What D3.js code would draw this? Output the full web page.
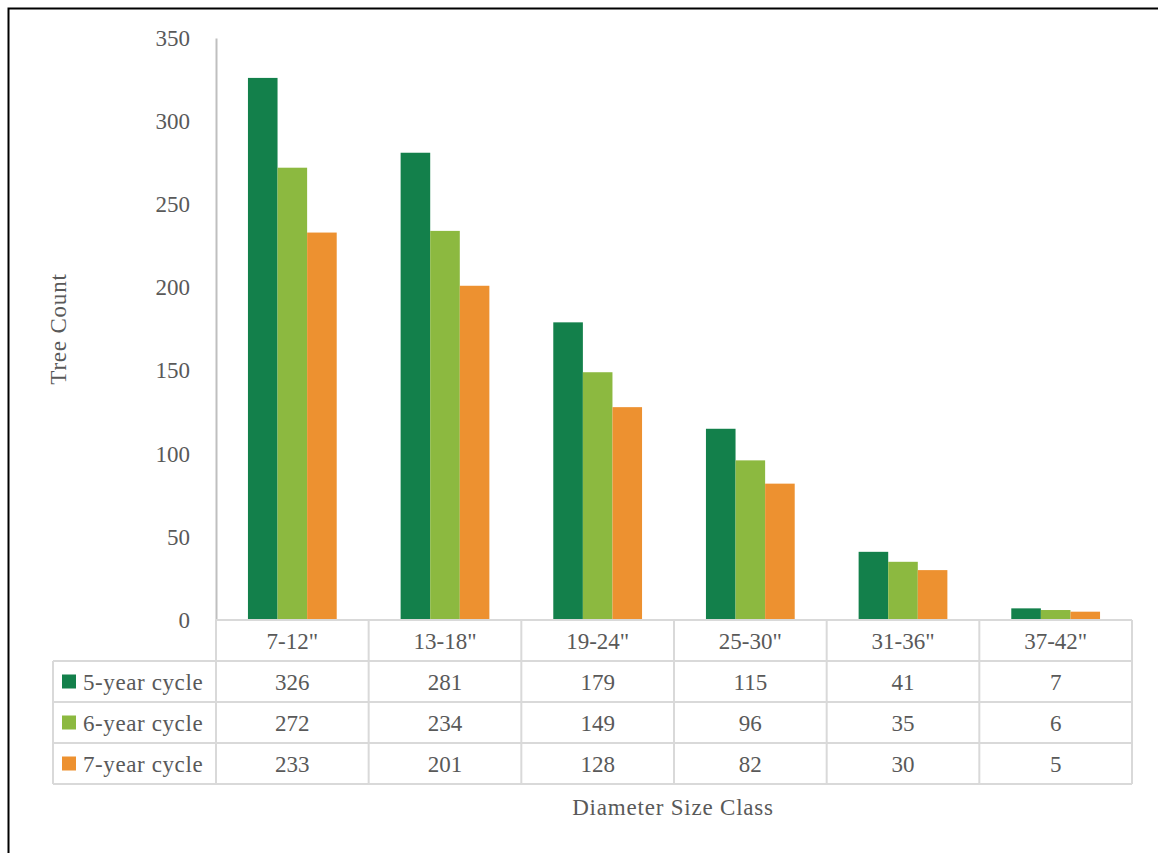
<!DOCTYPE html>
<html>
<head>
<meta charset="utf-8">
<script src="https://cdn.jsdelivr.net/npm/d3@7"></script>
<style>
  body { margin: 0; background: #fff; }
  text { font-family: "Liberation Serif", "DejaVu Serif", serif; fill: #595959; }
</style>
</head>
<body>
<div id="chart"></div>
<script>
var categories = ["7-12\"", "13-18\"", "19-24\"", "25-30\"", "31-36\"", "37-42\""];
var seriesNames = ["5-year cycle", "6-year cycle", "7-year cycle"];
var fiveYear = [326, 281, 179, 115, 41, 7];
var sixYear = [272, 234, 149, 96, 35, 6];
var sevenYear = [233, 201, 128, 82, 30, 5];
var yTicks = [0, 50, 100, 150, 200, 250, 300, 350];
var colours = ["#13804b", "#8cb940", "#ed9130"];

var seriesValues = [fiveYear, sixYear, sevenYear];

var width = 1158,
	height = 853;
var plotLeft = 216, plotRight = 1132;
var plotTop = 38, plotBottom = 620;
var rowHeight = 41;
var tableLeft = 53;
var fontSize = 23;

var svg = d3.select("#chart").append("svg")
	.attr("width", width)
	.attr("height", height);

// outer frame
svg.append("rect")
	.attr("x", 8.5).attr("y", 8.5)
	.attr("width", width + 10).attr("height", height + 10)
	.attr("fill", "none")
	.attr("stroke", "#000")
	.attr("stroke-width", 2);

var x = d3.scaleBand()
	.domain(categories)
	.range([plotLeft, plotRight]);

var xInner = d3.scaleBand()
	.domain(seriesNames)
	.range([0, x.bandwidth()])
	.paddingOuter(1.08);

var y = d3.scaleLinear()
	.domain([0, 350])
	.range([plotBottom, plotTop]);

// y axis
var yAxis = svg.append("g")
	.attr("transform", "translate(" + plotLeft + ",0)")
	.call(d3.axisLeft(y).tickValues(yTicks).tickSize(0).tickPadding(26));
yAxis.select(".domain").attr("stroke", "#bfbfbf").attr("stroke-width", 2);
yAxis.selectAll("text")
	.style("font-size", fontSize + "px")
	.style("font-family", "Liberation Serif")
	.attr("fill", "#595959");

// bars
for (var s = 0; s < seriesNames.length; s++) {
	svg.append("g").selectAll("rect")
		.data(seriesValues[s])
		.enter().append("rect")
		.attr("x", function(d, i) { return x(categories[i]) + xInner(seriesNames[s]); })
		.attr("width", xInner.bandwidth())
		.attr("y", function(d) { return y(d); })
		.attr("height", function(d) { return y(0) - y(d); })
		.attr("fill", colours[s]);
}

// data table
var grid = svg.append("g")
	.attr("stroke", "#d9d9d9")
	.attr("stroke-width", 2)
	.attr("fill", "none");

var tableBottom = plotBottom + rowHeight * 4;
// horizontal lines
grid.append("line")
	.attr("x1", plotLeft).attr("x2", plotRight)
	.attr("y1", plotBottom).attr("y2", plotBottom);
for (var r = 1; r <= 4; r++) {
	grid.append("line")
		.attr("x1", tableLeft).attr("x2", plotRight)
		.attr("y1", plotBottom + r * rowHeight).attr("y2", plotBottom + r * rowHeight);
}
// vertical lines
grid.append("line")
	.attr("x1", tableLeft).attr("x2", tableLeft)
	.attr("y1", plotBottom + rowHeight).attr("y2", tableBottom);
categories.forEach(function(c) {
	grid.append("line")
		.attr("x1", x(c)).attr("x2", x(c))
		.attr("y1", plotBottom).attr("y2", tableBottom);
});
grid.append("line")
	.attr("x1", plotRight).attr("x2", plotRight)
	.attr("y1", plotBottom).attr("y2", tableBottom);

// header row
svg.append("g").selectAll("text")
	.data(categories)
	.enter().append("text")
	.attr("x", function(d) { return x(d) + x.bandwidth() / 2; })
	.attr("y", plotBottom + rowHeight / 2 + 8)
	.attr("text-anchor", "middle")
	.style("font-size", fontSize + "px")
	.text(function(d) { return d; });

// series rows
seriesNames.forEach(function(name, s) {
	var rowY = plotBottom + (s + 1) * rowHeight;
	svg.append("rect")
		.attr("x", 62).attr("y", rowY + rowHeight / 2 - 7)
		.attr("width", 14).attr("height", 14)
		.attr("fill", colours[s]);
	svg.append("text")
		.attr("x", 83)
		.attr("y", rowY + rowHeight / 2 + 8)
		.style("font-size", fontSize + "px")
		.style("letter-spacing", "0.6px")
		.text(name);
	svg.append("g").selectAll("text")
		.data(seriesValues[s])
		.enter().append("text")
		.attr("x", function(d, i) { return x(categories[i]) + x.bandwidth() / 2; })
		.attr("y", rowY + rowHeight / 2 + 8)
		.attr("text-anchor", "middle")
		.style("font-size", fontSize + "px")
		.text(function(d) { return d; });
});

// axis titles
svg.append("text")
	.attr("transform", "translate(66," + ((plotTop + plotBottom) / 2) + ") rotate(-90)")
	.attr("text-anchor", "middle")
	.style("font-size", fontSize + "px")
	.style("letter-spacing", "0.8px")
	.text("Tree Count");

svg.append("text")
	.attr("x", 673)
	.attr("y", 815)
	.attr("text-anchor", "middle")
	.style("font-size", fontSize + "px")
	.style("letter-spacing", "0.8px")
	.text("Diameter Size Class");
</script>
</body>
</html>
